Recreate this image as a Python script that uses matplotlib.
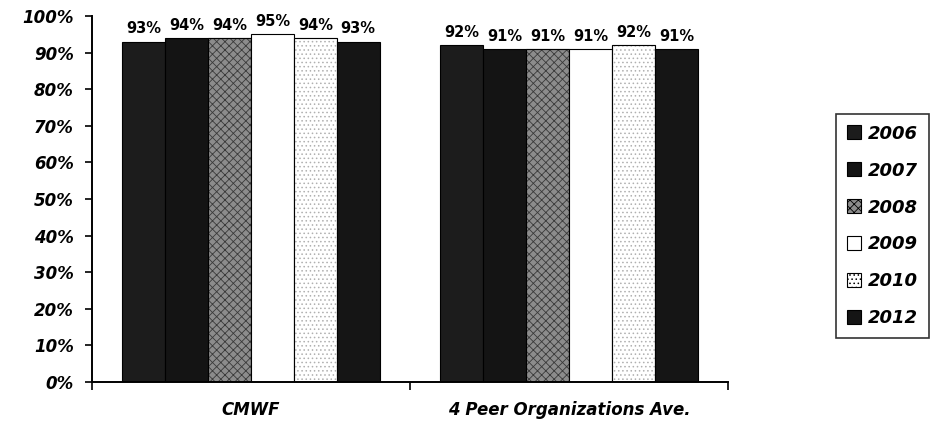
import numpy as np
import matplotlib.pyplot as plt

# data
groups = ["CMWF", "4 Peer Organizations Ave."]
years = ["2006", "2007", "2008", "2009", "2010", "2012"]
cmwf = [93, 94, 94, 95, 94, 93]
peers = [92, 91, 91, 91, 92, 91]

face = ["#1c1c1c", "#141414", "#8c8c8c", "#ffffff", "#ffffff", "#151515"]
hatch = [None, None, "xxxx", None, "....", None]
hatch_col = [None, None, "#3a3a3a", None, "#b0b0b0", None]

plt.rcParams["font.family"] = ["DejaVu Sans"]
plt.rcParams["hatch.linewidth"] = 0.6

fig = plt.figure(figsize=(9.37, 4.38), dpi=100)
ax = fig.add_axes([0.098, 0.128, 0.679, 0.835])

x = np.arange(len(groups))
w = 0.135
for i, yr in enumerate(years):
    vals = [cmwf[i], peers[i]]
    pos = x + (i - 2.5) * w
    bars = ax.bar(pos, vals, w, color=face[i], edgecolor="black", linewidth=0.8, label=yr)
    if hatch[i]:
        for b in bars:
            b.set_hatch(hatch[i])
            b.set_edgecolor(hatch_col[i])
            ax.add_patch(plt.Rectangle(b.get_xy(), b.get_width(), b.get_height(),
                                       fill=False, edgecolor="black", linewidth=0.8))
    for p, v in zip(pos, vals):
        ax.annotate(f"{v}%", (p, v), xytext=(0, 4), textcoords="offset points",
                    ha="center", va="bottom", fontsize=10.5, fontweight="bold")

ax.set_ylim(0, 100)
ax.set_xlim(-0.5, 1.5)
ax.set_yticks(np.arange(0, 101, 10))
ax.set_yticklabels([f"{t}%" for t in range(0, 101, 10)], fontsize=12,
                   fontweight="bold", style="italic")
ax.set_xticks(x)
ax.set_xticklabels(groups, fontsize=12, fontweight="bold", style="italic")
ax.set_xticks([-0.5, 0.5, 1.5], minor=True)
ax.tick_params(axis="x", which="major", length=0, pad=14)
ax.tick_params(axis="x", which="minor", length=6, width=1.2, direction="out")
ax.tick_params(axis="y", length=5, width=1.2, direction="out", pad=8)
for s in ["top", "right"]:
    ax.spines[s].set_visible(False)
for s in ["left", "bottom"]:
    ax.spines[s].set_linewidth(1.4)

leg = fig.legend(loc="center left", bbox_to_anchor=(0.892, 0.484), frameon=True,
                 fancybox=False, edgecolor="black", handlelength=0.8, handleheight=0.8,
                 labelspacing=1.05, handletextpad=0.4, borderpad=0.6, borderaxespad=0,
                 prop={"size": 13, "weight": "bold", "style": "italic"})
leg.get_frame().set_linewidth(1.2)
for h in leg.legend_handles:
    h.set_edgecolor("black")

fig.savefig("out.png", dpi=100)
